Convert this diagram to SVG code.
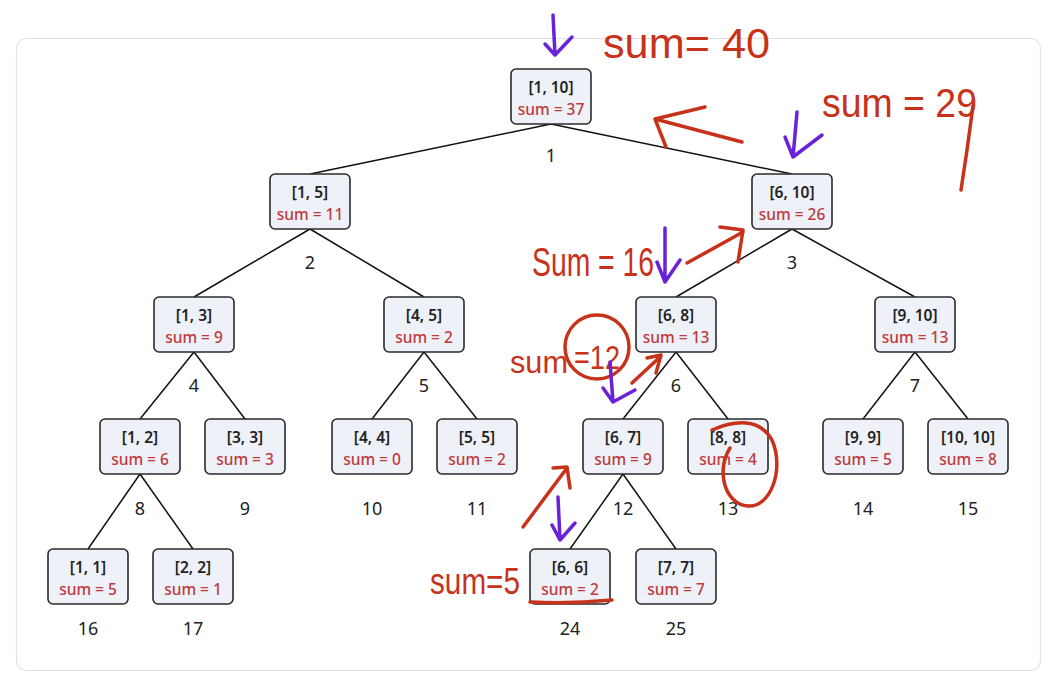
<svg xmlns="http://www.w3.org/2000/svg" width="1060" height="691" viewBox="0 0 1060 691">
<style>
.card{fill:#fff;stroke:#e2e2e2;stroke-width:1.2}
.box{fill:#eef1f8;stroke:#2a2a2a;stroke-width:1.6}
.rng{font-family:"Noto Sans","DejaVu Sans",sans-serif;font-size:15.5px;font-weight:600;fill:#222;text-anchor:middle}
.sum{font-family:"Noto Sans","DejaVu Sans",sans-serif;font-size:15.5px;font-weight:500;fill:#c0393b;text-anchor:middle}
.idx{font-family:"Noto Sans","DejaVu Sans",sans-serif;font-size:18px;fill:#222;text-anchor:middle}
.edge{stroke:#111;stroke-width:1.5;fill:none}
.red{stroke:#c8321a;stroke-width:3.5;fill:none;stroke-linecap:round;stroke-linejoin:round}
.pur{stroke:#6a22d8;stroke-width:3.5;fill:none;stroke-linecap:round;stroke-linejoin:round}
.hw{font-family:"Liberation Sans","DejaVu Sans",sans-serif;fill:#c8321a}
</style>
<rect class="card" x="16.5" y="38.5" width="1024" height="632" rx="10"/>
<g id="connectors">
<line class="edge" x1="551" y1="124" x2="310" y2="174"/>
<line class="edge" x1="551" y1="124" x2="792" y2="174"/>
<line class="edge" x1="310" y1="229" x2="194" y2="297"/>
<line class="edge" x1="310" y1="229" x2="424" y2="297"/>
<line class="edge" x1="792" y1="229" x2="676" y2="297"/>
<line class="edge" x1="792" y1="229" x2="915" y2="297"/>
<line class="edge" x1="194" y1="352" x2="140" y2="419"/>
<line class="edge" x1="194" y1="352" x2="245" y2="419"/>
<line class="edge" x1="424" y1="352" x2="372" y2="419"/>
<line class="edge" x1="424" y1="352" x2="477" y2="419"/>
<line class="edge" x1="676" y1="352" x2="623" y2="419"/>
<line class="edge" x1="676" y1="352" x2="728" y2="419"/>
<line class="edge" x1="915" y1="352" x2="863" y2="419"/>
<line class="edge" x1="915" y1="352" x2="968" y2="419"/>
<line class="edge" x1="140" y1="474" x2="88" y2="549"/>
<line class="edge" x1="140" y1="474" x2="193" y2="549"/>
<line class="edge" x1="623" y1="474" x2="570" y2="549"/>
<line class="edge" x1="623" y1="474" x2="676" y2="549"/>
</g>
<g id="n1"><rect class="box" x="511" y="69" width="80" height="55" rx="5"/><text class="rng" x="551" y="92.5">[1, 10]</text><text class="sum" x="551" y="114.5">sum = 37</text><text class="idx" x="551" y="162">1</text></g>
<g id="n2"><rect class="box" x="270" y="174" width="80" height="55" rx="5"/><text class="rng" x="310" y="197.5">[1, 5]</text><text class="sum" x="310" y="219.5">sum = 11</text><text class="idx" x="310" y="269">2</text></g>
<g id="n3"><rect class="box" x="752" y="174" width="80" height="55" rx="5"/><text class="rng" x="792" y="197.5">[6, 10]</text><text class="sum" x="792" y="219.5">sum = 26</text><text class="idx" x="792" y="269">3</text></g>
<g id="n4"><rect class="box" x="154" y="297" width="80" height="55" rx="5"/><text class="rng" x="194" y="320.5">[1, 3]</text><text class="sum" x="194" y="342.5">sum = 9</text><text class="idx" x="194" y="392">4</text></g>
<g id="n5"><rect class="box" x="384" y="297" width="80" height="55" rx="5"/><text class="rng" x="424" y="320.5">[4, 5]</text><text class="sum" x="424" y="342.5">sum = 2</text><text class="idx" x="424" y="392">5</text></g>
<g id="n6"><rect class="box" x="636" y="297" width="80" height="55" rx="5"/><text class="rng" x="676" y="320.5">[6, 8]</text><text class="sum" x="676" y="342.5">sum = 13</text><text class="idx" x="676" y="392">6</text></g>
<g id="n7"><rect class="box" x="875" y="297" width="80" height="55" rx="5"/><text class="rng" x="915" y="320.5">[9, 10]</text><text class="sum" x="915" y="342.5">sum = 13</text><text class="idx" x="915" y="392">7</text></g>
<g id="n8"><rect class="box" x="100" y="419" width="80" height="55" rx="5"/><text class="rng" x="140" y="442.5">[1, 2]</text><text class="sum" x="140" y="464.5">sum = 6</text><text class="idx" x="140" y="515">8</text></g>
<g id="n9"><rect class="box" x="205" y="419" width="80" height="55" rx="5"/><text class="rng" x="245" y="442.5">[3, 3]</text><text class="sum" x="245" y="464.5">sum = 3</text><text class="idx" x="245" y="515">9</text></g>
<g id="n10"><rect class="box" x="332" y="419" width="80" height="55" rx="5"/><text class="rng" x="372" y="442.5">[4, 4]</text><text class="sum" x="372" y="464.5">sum = 0</text><text class="idx" x="372" y="515">10</text></g>
<g id="n11"><rect class="box" x="437" y="419" width="80" height="55" rx="5"/><text class="rng" x="477" y="442.5">[5, 5]</text><text class="sum" x="477" y="464.5">sum = 2</text><text class="idx" x="477" y="515">11</text></g>
<g id="n12"><rect class="box" x="583" y="419" width="80" height="55" rx="5"/><text class="rng" x="623" y="442.5">[6, 7]</text><text class="sum" x="623" y="464.5">sum = 9</text><text class="idx" x="623" y="515">12</text></g>
<g id="n13"><rect class="box" x="688" y="419" width="80" height="55" rx="5"/><text class="rng" x="728" y="442.5">[8, 8]</text><text class="sum" x="728" y="464.5">sum = 4</text><text class="idx" x="728" y="515">13</text></g>
<g id="n14"><rect class="box" x="823" y="419" width="80" height="55" rx="5"/><text class="rng" x="863" y="442.5">[9, 9]</text><text class="sum" x="863" y="464.5">sum = 5</text><text class="idx" x="863" y="515">14</text></g>
<g id="n15"><rect class="box" x="928" y="419" width="80" height="55" rx="5"/><text class="rng" x="968" y="442.5">[10, 10]</text><text class="sum" x="968" y="464.5">sum = 8</text><text class="idx" x="968" y="515">15</text></g>
<g id="n16"><rect class="box" x="48" y="549" width="80" height="55" rx="5"/><text class="rng" x="88" y="572.5">[1, 1]</text><text class="sum" x="88" y="594.5">sum = 5</text><text class="idx" x="88" y="635">16</text></g>
<g id="n17"><rect class="box" x="153" y="549" width="80" height="55" rx="5"/><text class="rng" x="193" y="572.5">[2, 2]</text><text class="sum" x="193" y="594.5">sum = 1</text><text class="idx" x="193" y="635">17</text></g>
<g id="n24"><rect class="box" x="530" y="549" width="80" height="55" rx="5"/><text class="rng" x="570" y="572.5">[6, 6]</text><text class="sum" x="570" y="594.5">sum = 2</text><text class="idx" x="570" y="635">24</text></g>
<g id="n25"><rect class="box" x="636" y="549" width="80" height="55" rx="5"/><text class="rng" x="676" y="572.5">[7, 7]</text><text class="sum" x="676" y="594.5">sum = 7</text><text class="idx" x="676" y="635">25</text></g>
<g id="annotations">
<path class="pur" d="M553 15 L555 55 M545 44 L555 55 L572 37"/>
<text class="hw" x="603" y="58" font-size="42" textLength="167" lengthAdjust="spacingAndGlyphs">sum= 40</text>
<path class="red" d="M742 142 L655 119 M705 107 L655 119 L666 147"/>
<path class="pur" d="M797 112 L793 157 M785 137 L793 157 L822 135"/>
<text class="hw" x="822" y="117" font-size="40" textLength="155" lengthAdjust="spacingAndGlyphs">sum = 29</text>
<path class="red" d="M973 106 L967 150 L961 190"/>
<text class="hw" x="532" y="276" font-size="40" textLength="122" lengthAdjust="spacingAndGlyphs">Sum = 16</text>
<path class="pur" d="M665 228 L665 282 M657 262 L665 282 L680 260"/>
<path class="red" d="M687 263 L743 232 M720 227 L743 230 L738 262"/>
<text class="hw" x="510" y="373" font-size="32" textLength="58" lengthAdjust="spacingAndGlyphs">sum</text>
<text class="hw" x="574" y="369" font-size="34" textLength="46" lengthAdjust="spacingAndGlyphs">=12</text>
<ellipse class="red" cx="597" cy="347" rx="32" ry="32"/>
<path class="pur" d="M610 362 L613 402 M603 388 L613 402 L635 390"/>
<path class="red" d="M632 383 L661 356 M647 358 L661 355 L656 373"/>
<path class="red" d="M712 430 C735 420 760 418 772 440 C785 470 770 508 748 506 C724 504 716 470 730 448"/>
<path class="red" d="M523 527 L567 468 M553 468 L567 467 L570 488"/>
<path class="pur" d="M558 497 L560 540 M552 525 L560 540 L575 523"/>
<text class="hw" x="430" y="594" font-size="36" textLength="90" lengthAdjust="spacingAndGlyphs">sum=5</text>
<path class="red" d="M530 602 Q570 604 612 600"/>
</g>
</svg>
